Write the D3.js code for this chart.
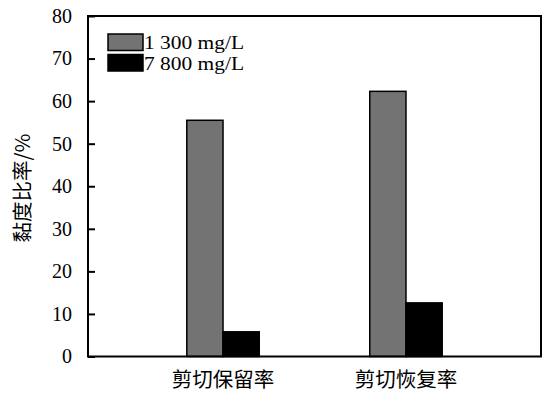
<!DOCTYPE html>
<html><head><meta charset="utf-8">
<script src="https://cdn.jsdelivr.net/npm/d3@7"></script>
<style>body{margin:0;background:#fff}</style>
</head><body>
<svg id="c" width="554" height="398"></svg>
<script>
const categories = ["剪切保留率", "剪切恢复率"];
const seriesNames = ["1 300 mg/L", "7 800 mg/L"];
const series1300 = [55.5, 62.3];
const series7800 = [5.8, 12.6];
const yTicks = [0, 10, 20, 30, 40, 50, 60, 70, 80];
const colors = ["#737373", "#000000"];
const yLabel = "黏度比率/%";

const svg = d3.select("#c");
const L = 88, R = 541, T = 16, B = 356.5;
const serif = '"Liberation Serif"';
const cjk = '"Noto Sans CJK SC"';

const y = d3.scaleLinear().domain([0, 80]).range([B, T]);
const x0 = d3.scaleBand().domain(categories).range([L, R]).paddingInner(0.604).paddingOuter(0.54);
const x1 = d3.scaleBand().domain(seriesNames).range([0, x0.bandwidth()]);

const data = categories.map((c, i) => ({cat: c, vals: [series1300[i], series7800[i]]}));

const g = svg.append("g");
data.forEach(d => {
  d.vals.forEach((v, j) => {
    g.append("rect")
      .attr("x", x0(d.cat) + x1(seriesNames[j]))
      .attr("y", y(v))
      .attr("width", x1.bandwidth())
      .attr("height", y(0) - y(v))
      .attr("fill", colors[j])
      .attr("stroke", "#000")
      .attr("stroke-width", 1.5);
  });
});

// frame
svg.append("rect").attr("x", L).attr("y", T).attr("width", R - L).attr("height", B - T)
  .attr("fill", "none").attr("stroke", "#000").attr("stroke-width", 2);

// y axis
const yAxis = d3.axisLeft(y).tickValues(yTicks).tickSize(-7).tickPadding(16).tickFormat(d3.format("d"));
const ya = svg.append("g").attr("transform", `translate(${L},0)`).call(yAxis);
ya.select(".domain").remove();
ya.selectAll(".tick line").attr("stroke", "#000").attr("stroke-width", 2);
ya.selectAll(".tick text").style("font-family", serif).style("font-size", "20px").attr("fill", "#000");

// x axis labels
const xAxis = d3.axisBottom(x0).tickSize(0).tickPadding(16);
const xa = svg.append("g").attr("transform", `translate(0,${B})`).call(xAxis);
xa.select(".domain").remove();
xa.selectAll(".tick text").style("font-family", cjk).style("font-size", "20.5px").attr("fill", "#000");

// y label
svg.append("text").attr("transform", "translate(30,188) rotate(-90)")
  .attr("text-anchor", "middle").style("font-family", cjk).style("font-size", "20.5px")
  .text(yLabel);

// legend
const lg = svg.append("g");
seriesNames.forEach((s, j) => {
  lg.append("rect").attr("x", 108).attr("y", 34 + j * 20.5).attr("width", 35).attr("height", 16.5)
    .attr("fill", colors[j]).attr("stroke", "#000").attr("stroke-width", 1.5);
  lg.append("text").attr("x", 144).attr("y", 48.5 + j * 21.5)
    .attr("textLength", 100).attr("lengthAdjust", "spacingAndGlyphs")
    .style("font-family", serif).style("font-size", "19px").text(s);
});
</script>
</body></html>
